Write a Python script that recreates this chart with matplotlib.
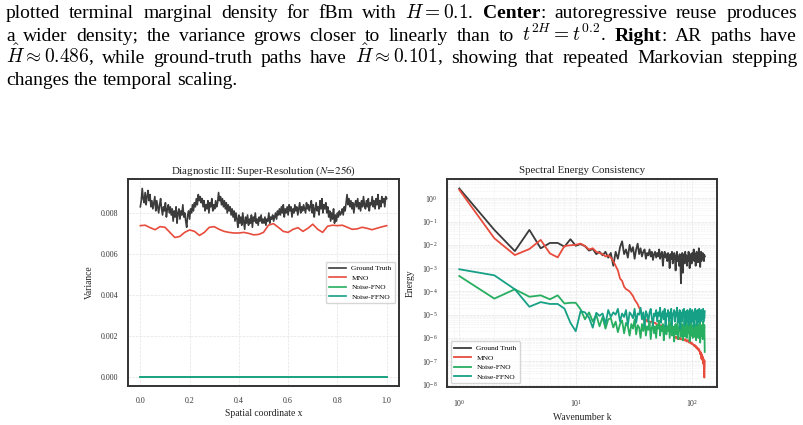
import numpy as np
import matplotlib
matplotlib.use("Agg")
import matplotlib.pyplot as plt
from matplotlib.ticker import FixedLocator, FormatStrFormatter, LogLocator, NullFormatter

plt.rcParams["font.family"] = ["Liberation Serif", "DejaVu Serif"]
plt.rcParams["mathtext.fontset"] = "stix"

W, H = 804, 425

# warna garis
GT_COLOR = "#3b3b3b"
MNO_COLOR = "#e74c3c"
FNO_COLOR = "#27ae60"
FFNO_COLOR = "#16a085"

# --- teks keterangan (caption) di atas gambar ---
caption_lines = [
    ["plotted", "terminal", "marginal", "density", "for", "fBm", "with", "$H = 0.1$.",
     "**Center**:", "autoregressive", "reuse", "produces"],
    ["a", "wider", "density;", "the", "variance", "grows", "closer", "to", "linearly",
     "than", "to", "$t^{2H} = t^{0.2}$.", "**Right**:", "AR", "paths", "have"],
    ["$\\hat{H} \\approx 0.486$,", "while", "ground-truth", "paths", "have",
     "$\\hat{H} \\approx 0.101$,", "showing", "that", "repeated", "Markovian", "stepping"],
    ["changes", "the", "temporal", "scaling."],
]

# --- panel kiri: varians pada N=256 (satuan 1e-3) ---
gt_var_e3 = [
    8.3, 8.6, 9.2, 8.7, 8.5, 9.0, 8.4, 8.8, 9.1, 8.6, 8.9, 8.3, 8.6, 8.2, 8.5, 8.8,
    8.1, 8.6, 8.3, 8.0, 8.4, 8.7, 8.2, 7.9, 8.3, 8.1, 8.5, 7.8, 8.2, 8.4, 8.0, 8.3,
    7.9, 8.2, 7.6, 8.1, 7.8, 8.3, 7.5, 8.0, 8.2, 7.7, 8.1, 7.9, 8.4, 7.8, 8.0, 7.6,
    7.3, 7.9, 8.1, 7.7, 8.2, 8.0, 8.4, 8.1, 8.5, 8.3, 8.7, 8.4, 8.9, 8.6, 8.8, 8.5,
    8.7, 8.3, 8.6, 8.1, 8.4, 8.2, 8.6, 8.0, 8.5, 8.3, 8.7, 8.1, 8.4, 8.2, 8.6, 8.3,
    8.5, 9.0, 8.6, 8.8, 8.4, 8.7, 8.3, 8.6, 8.2, 8.5, 8.0, 8.4, 8.1, 8.3, 7.9, 8.2,
    7.8, 8.1, 7.6, 8.0, 7.7, 7.3, 7.9, 7.5, 7.8, 7.4, 8.0, 7.6, 7.2, 7.8, 7.5, 7.9,
    7.4, 7.7, 7.5, 7.9, 7.3, 7.8, 7.6, 8.0, 7.5, 7.7, 7.4, 7.8, 7.6, 7.9, 7.5, 7.7,
    7.5, 7.8, 7.4, 7.7, 7.6, 8.0, 7.5, 7.8, 7.7, 7.9, 7.6, 7.8, 8.0, 7.7, 8.1, 7.9,
    8.2, 7.9, 8.3, 8.0, 8.4, 7.8, 8.2, 8.0, 8.3, 7.9, 8.4, 8.1, 8.3, 7.8, 8.2, 8.0,
    8.4, 8.1, 8.3, 7.9, 8.2, 8.5, 8.0, 8.3, 8.1, 8.4, 8.2, 8.0, 8.5, 8.2, 8.4, 8.1,
    8.3, 8.6, 8.0, 8.4, 7.8, 8.2, 8.5, 8.1, 8.3, 7.9, 8.6, 8.2, 8.7, 8.0, 8.4, 8.2,
    8.5, 8.0, 8.3, 7.8, 8.1, 7.6, 8.0, 7.7, 8.2, 7.5, 7.9, 7.6, 8.0, 7.8, 8.1, 7.9,
    8.0, 8.2, 7.9, 8.3, 8.1, 8.5, 8.9, 8.4, 8.7, 8.3, 8.6, 8.2, 8.5, 8.0, 8.4, 8.6,
    8.3, 8.7, 8.2, 8.5, 8.1, 8.6, 8.3, 8.8, 8.4, 8.2, 8.6, 8.3, 8.7, 8.1, 8.5, 8.4,
    8.8, 8.3, 8.6, 8.2, 8.7, 8.4, 8.9, 8.2, 8.6, 8.3, 8.8, 8.5, 8.7, 8.3, 8.8, 8.7,
]
mno_var_e3 = [
    7.38, 7.40, 7.28, 7.18, 7.33, 7.30, 7.05, 6.80, 6.85, 7.05,
    7.17, 7.10, 6.90, 7.05, 7.30, 7.33, 7.20, 7.10, 7.05, 7.02,
    7.02, 7.05, 7.00, 6.93, 6.95, 7.05, 7.40, 7.48, 7.30, 7.10,
    7.05, 7.20, 7.28, 7.10, 7.25, 7.45, 7.20, 7.05, 7.35, 7.40,
    7.38, 7.40, 7.30, 7.20, 7.22, 7.30, 7.25, 7.18, 7.25, 7.32, 7.38,
]
fno_var_e3 = [0.0, 0.0, 0.0, 0.0, 0.0]
ffno_var_e3 = [0.0, 0.0, 0.0, 0.0, 0.0]

# --- panel kanan: energi spektral (log10) untuk k = 1..128 ---
gt_log_energy = [
    0.42, -1.36, -2.27, -1.36, -2.15, -1.92, -1.92, -2.08, -1.76, -2.04,
    -1.97, -2.06, -2.25, -2.18, -2.4, -2.3, -2.45, -2.3, -2.55, -2.35,
    -2.9, -2.3, -2.6, -2.1, -1.85, -2.4, -2.2, -2.55, -2.0, -2.3,
    -2.1, -2.6, -2.2, -1.95, -2.4, -2.15, -2.5, -2.3, -2.2, -2.6,
    -2.35, -2.45, -2.2, -2.5, -2.3, -2.65, -2.4, -2.3, -2.55, -2.35,
    -2.5, -2.2, -2.6, -2.4, -2.3, -2.9, -2.45, -2.3, -2.55, -2.4,
    -2.7, -2.35, -2.5, -3.0, -2.4, -2.6, -2.3, -2.8, -2.5, -2.35,
    -2.6, -3.1, -2.45, -2.3, -2.7, -2.5, -2.9, -2.4, -2.6, -3.65,
    -2.55, -2.35, -3.2, -2.5, -2.4, -2.8, -2.3, -2.6, -2.45, -2.9,
    -2.5, -2.7, -2.3, -2.55, -3.0, -2.4, -2.6, -2.5, -2.8, -2.35,
    -2.6, -2.45, -2.2, -2.7, -2.5, -2.4, -2.9, -2.55, -2.3, -2.6,
    -2.45, -2.75, -2.5, -2.15, -2.6, -2.4, -2.95, -2.5, -2.3, -2.7,
    -2.45, -2.6, -2.35, -2.55, -2.4, -2.7, -2.45, -2.5,
]
mno_log_energy = [
    0.36, -1.72, -2.44, -2.18, -1.79, -2.37, -2.54, -2.05, -2.02, -2.0,
    -1.95, -2.05, -2.2, -2.15, -2.3, -2.35, -2.4, -2.5, -2.45, -2.55,
    -2.7, -2.9, -3.1, -3.45, -3.55, -3.8, -3.9, -3.95, -4.0, -4.1,
    -4.2, -4.35, -4.45, -4.55, -4.7, -4.8, -5.0, -5.2, -5.25, -5.2,
    -5.3, -5.25, -5.35, -5.3, -5.3, -5.4, -5.35, -5.35, -5.4, -5.45,
    -5.4, -5.45, -5.5, -5.45, -5.5, -5.5, -5.55, -5.5, -5.55, -5.6,
    -5.55, -5.6, -5.65, -5.6, -5.7, -5.75, -5.8, -5.85, -5.9, -5.95,
    -5.95, -6.0, -5.95, -6.0, -6.05, -6.0, -6.0, -6.05, -6.0, -6.05,
    -6.05, -6.05, -6.1, -6.05, -6.1, -6.1, -6.05, -6.1, -6.15, -6.1,
    -6.15, -6.1, -6.15, -6.2, -6.15, -6.2, -6.2, -6.25, -6.2, -6.25,
    -6.25, -6.3, -6.3, -6.35, -6.3, -6.35, -6.4, -6.35, -6.45, -6.4,
    -6.45, -6.5, -6.45, -6.55, -6.5, -6.6, -6.7, -6.6, -6.75, -6.9,
    -6.7, -6.95, -6.8, -7.1, -6.9, -7.3, -7.7, -7.0,
]
fno_log_energy = [
    -3.34, -4.31, -3.91, -4.23, -4.17, -4.34, -4.17, -4.52, -4.49, -4.49,
    -4.77, -5.2, -4.9, -5.3, -5.0, -5.5, -5.1, -5.6, -5.2, -5.15,
    -5.55, -5.3, -5.75, -5.4, -5.25, -5.8, -5.35, -5.5, -5.9, -5.4,
    -5.6, -5.2, -5.85, -5.45, -5.55, -6.0, -5.4, -5.7, -5.25, -5.9,
    -5.5, -5.65, -5.3, -6.05, -5.55, -5.4, -5.8, -5.5, -6.0, -5.45,
    -5.6, -5.25, -5.9, -5.5, -5.7, -5.4, -6.1, -5.55, -5.45, -5.85,
    -5.5, -5.7, -5.35, -6.0, -5.6, -5.2, -5.9, -5.5, -5.65, -6.15,
    -5.5, -5.4, -5.85, -5.6, -5.35, -6.05, -5.55, -5.7, -5.3, -5.95,
    -5.6, -5.4, -6.1, -5.5, -5.75, -5.2, -5.95, -5.55, -5.35, -6.0,
    -5.6, -5.45, -5.8, -5.5, -6.15, -5.55, -5.3, -5.9, -5.6, -5.45,
    -6.0, -5.5, -5.7, -5.25, -5.95, -5.55, -5.45, -6.1, -5.6, -5.3,
    -5.85, -5.5, -6.0, -5.45, -5.7, -5.25, -6.2, -5.5, -5.6, -5.9,
    -5.45, -5.65, -6.05, -5.3, -5.5, -5.9, -5.45, -6.6,
]
ffno_log_energy = [
    -3.05, -3.31, -3.91, -4.66, -4.46, -4.54, -4.54, -4.74, -5.35, -5.71,
    -4.85, -4.9, -5.13, -5.56, -4.92, -5.05, -4.95, -5.4, -4.8, -5.1,
    -4.9, -5.0, -4.75, -5.3, -4.95, -5.1, -4.8, -5.45, -4.9, -5.0,
    -5.15, -4.75, -5.35, -4.95, -5.0, -4.7, -5.2, -4.9, -5.5, -4.85,
    -5.0, -5.3, -4.9, -4.75, -5.15, -5.45, -4.95, -5.05, -4.8, -5.3,
    -4.9, -5.05, -4.7, -5.35, -5.0, -4.85, -5.2, -4.75, -5.5, -4.95,
    -5.05, -4.8, -5.3, -4.9, -5.15, -4.75, -5.45, -4.95, -5.0, -4.8,
    -5.3, -4.9, -5.05, -4.7, -5.35, -4.95, -5.15, -4.8, -5.6, -4.9,
    -5.0, -5.3, -4.8, -5.1, -4.75, -5.45, -4.95, -5.15, -4.85, -5.3,
    -4.8, -5.05, -5.45, -4.9, -5.0, -4.75, -5.35, -4.95, -5.15, -4.8,
    -5.3, -4.9, -5.5, -4.95, -5.05, -4.75, -5.2, -4.85, -5.45, -5.0,
    -4.8, -5.15, -4.95, -5.35, -4.75, -5.1, -4.85, -5.3, -4.95, -4.8,
    -5.2, -4.85, -5.1, -4.75, -5.3, -4.95, -5.15, -4.85,
]

labels = ["Ground Truth", "MNO", "Noise-FNO", "Noise-FFNO"]
colors = [GT_COLOR, MNO_COLOR, FNO_COLOR, FFNO_COLOR]

fig = plt.figure(figsize=(W / 100, H / 100), dpi=100)
fig.patch.set_facecolor("white")


def px_box(left, top, right, bottom):
    return [left / W, 1 - bottom / H, (right - left) / W, (bottom - top) / H]


def style_axes(ax):
    for s in ax.spines.values():
        s.set_color("#333333")
        s.set_linewidth(1.4)
    ax.tick_params(which="both", length=0, labelsize=5.7, colors="#333333")
    ax.tick_params(axis="x", pad=8)
    ax.tick_params(axis="y", pad=7)
    ax.set_axisbelow(True)


# panel kiri
ax1 = fig.add_axes(px_box(128, 179, 399, 386))
series_var = [gt_var_e3, mno_var_e3, fno_var_e3, ffno_var_e3]
for vals, lab, c in zip(series_var, labels, colors):
    v = np.array(vals) * 1e-3
    ax1.plot(np.linspace(0, 1, len(v)), v, color=c, lw=1.2, label=lab)
style_axes(ax1)
ax1.grid(True, ls="--", lw=0.5, color="#e3e3e3")
ax1.xaxis.set_major_locator(FixedLocator([0.0, 0.2, 0.4, 0.6, 0.8, 1.0]))
ax1.yaxis.set_major_locator(FixedLocator([0.0, 0.002, 0.004, 0.006, 0.008]))
ax1.xaxis.set_major_formatter(FormatStrFormatter("%.1f"))
ax1.yaxis.set_major_formatter(FormatStrFormatter("%.3f"))
ax1.set_title("Diagnostic III: Super-Resolution ($N\\!=\\!256$)", fontsize=7.8, pad=4, color="#222222")
ax1.set_xlabel("Spatial coordinate x", fontsize=6.9, labelpad=3, color="#222222")
ax1.set_ylabel("Variance", fontsize=6.9, labelpad=5, color="#222222")
ax1.legend(loc="center right", fontsize=5.3, frameon=True, edgecolor="#cccccc",
           fancybox=True, borderpad=0.5, labelspacing=0.45, handlelength=2.2)

# panel kanan
ax2 = fig.add_axes(px_box(447, 179, 717, 387))
k = np.arange(1, len(gt_log_energy) + 1)
series_E = [gt_log_energy, mno_log_energy, fno_log_energy, ffno_log_energy]
for vals, lab, c in zip(series_E, labels, colors):
    ax2.loglog(k, 10.0 ** np.array(vals), color=c, lw=1.3, label=lab)
style_axes(ax2)
ax2.yaxis.set_major_locator(FixedLocator(10.0 ** np.arange(-8, 1)))
ax2.yaxis.set_minor_locator(LogLocator(base=10, subs=np.arange(2, 10), numticks=30))
ax2.yaxis.set_minor_formatter(NullFormatter())
ax2.xaxis.set_minor_locator(LogLocator(base=10, subs=np.arange(2, 10), numticks=30))
ax2.xaxis.set_minor_formatter(NullFormatter())
ax2.grid(True, which="major", ls="--", lw=0.5, color="#e3e3e3")
ax2.grid(True, which="minor", ls="--", lw=0.4, color="#eeeeee")
ax2.set_title("Spectral Energy Consistency", fontsize=7.8, pad=4, color="#222222")
ax2.set_xlabel("Wavenumber k", fontsize=6.9, labelpad=3, color="#222222")
ax2.set_ylabel("Energy", fontsize=6.9, labelpad=5, color="#222222")
ax2.legend(loc="lower left", fontsize=5.3, frameon=True, edgecolor="#cccccc",
           fancybox=True, borderpad=0.5, labelspacing=0.45, handlelength=2.2)

# caption rata kiri-kanan, kata demi kata
CAP_FS = 14.0
baselines = [18, 41, 63, 85]
x_left, x_right = 6, 797
renderer = fig.canvas.get_renderer()


def word_pieces(word):
    parts = word.split("**")
    return [(p, "bold" if i % 2 else "normal") for i, p in enumerate(parts) if p]


for li, (words, yb) in enumerate(zip(caption_lines, baselines)):
    y = 1 - yb / H
    groups = []
    for w in words:
        items = []
        for txt, wt in word_pieces(w):
            t = fig.text(0, y, txt, fontsize=CAP_FS, fontweight=wt, va="baseline",
                         ha="left", color="black", math_fontfamily="cm")
            items.append((t, t.get_window_extent(renderer).width))
        groups.append(items)
    widths = [sum(wd for _, wd in g) for g in groups]
    if li < len(caption_lines) - 1:
        gap = (x_right - x_left - sum(widths)) / (len(groups) - 1)
    else:
        gap = CAP_FS * 100 / 72 * 0.25
    x = x_left
    for g, gw in zip(groups, widths):
        xx = x
        for t, wd in g:
            t.set_x(xx / W)
            xx += wd
        x += gw + gap

fig.savefig("out.png", dpi=100)
